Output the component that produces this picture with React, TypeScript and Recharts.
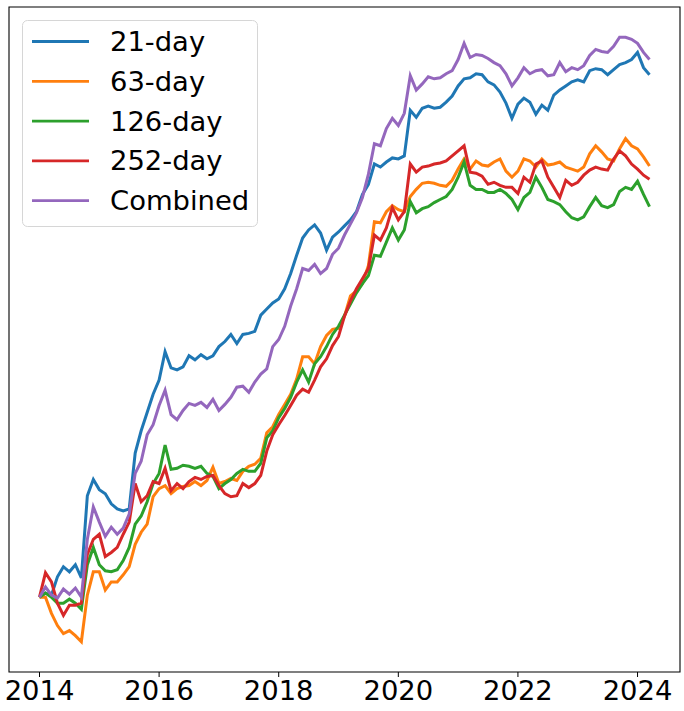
import React from 'react';
import { LineChart, Line, XAxis, YAxis, Legend, ReferenceArea } from 'recharts';

// Sampled every 0.1 year starting at 2014.0
const START_YEAR = 2014;
const STEP = 0.1;

const day21 = [
  0.50, 0.54, 0.52, 0.70, 0.80, 0.75, 0.82, 0.69, 1.50, 1.66,
  1.56, 1.52, 1.42, 1.37, 1.35, 1.37, 1.92, 2.14, 2.32, 2.50,
  2.64, 2.92, 2.76, 2.74, 2.77, 2.88, 2.84, 2.89, 2.85, 2.88,
  2.97, 3.02, 3.09, 3.00, 3.09, 3.10, 3.12, 3.28, 3.34, 3.40,
  3.44, 3.54, 3.69, 3.87, 4.04, 4.12, 4.17, 4.09, 3.92, 4.05,
  4.10, 4.16, 4.22, 4.30, 4.47, 4.57, 4.77, 4.74, 4.79, 4.83,
  4.82, 4.85, 5.30, 5.23, 5.32, 5.34, 5.32, 5.33, 5.38, 5.44,
  5.54, 5.61, 5.62, 5.66, 5.65, 5.58, 5.55, 5.48, 5.37, 5.22,
  5.36, 5.42, 5.38, 5.26, 5.35, 5.30, 5.45, 5.50, 5.54, 5.58,
  5.60, 5.58, 5.69, 5.71, 5.70, 5.65, 5.70, 5.75, 5.77, 5.80,
  5.87, 5.72, 5.65,
];

const day63 = [
  0.50, 0.50, 0.34, 0.22, 0.14, 0.17, 0.12, 0.06, 0.52, 0.75,
  0.75, 0.57, 0.65, 0.65, 0.72, 0.80, 1.02, 1.14, 1.22, 1.49,
  1.57, 1.60, 1.52, 1.57, 1.59, 1.60, 1.64, 1.60, 1.65, 1.78,
  1.62, 1.64, 1.67, 1.65, 1.74, 1.79, 1.81, 1.87, 2.12, 2.18,
  2.30, 2.40, 2.50, 2.65, 2.87, 2.87, 2.80, 2.97, 3.08, 3.14,
  3.15, 3.27, 3.47, 3.52, 3.59, 3.77, 4.20, 4.19, 4.30, 4.36,
  4.32, 4.30, 4.45, 4.52, 4.58, 4.59, 4.58, 4.56, 4.55, 4.61,
  4.72, 4.82, 4.72, 4.80, 4.76, 4.75, 4.79, 4.82, 4.70, 4.64,
  4.70, 4.82, 4.80, 4.74, 4.82, 4.76, 4.77, 4.79, 4.74, 4.72,
  4.70, 4.74, 4.87, 4.95, 4.89, 4.82, 4.80, 4.92, 5.02, 4.95,
  4.92, 4.84, 4.75,
];

const day126 = [
  0.50, 0.54, 0.50, 0.44, 0.44, 0.48, 0.44, 0.38, 0.82, 0.99,
  0.82, 0.76, 0.75, 0.77, 0.86, 0.99, 1.22, 1.30, 1.44, 1.62,
  1.72, 2.00, 1.76, 1.77, 1.80, 1.79, 1.77, 1.79, 1.72, 1.69,
  1.57, 1.62, 1.66, 1.72, 1.76, 1.74, 1.74, 1.82, 2.07, 2.14,
  2.27, 2.36, 2.47, 2.62, 2.74, 2.62, 2.80, 2.87, 2.97, 3.09,
  3.17, 3.28, 3.39, 3.50, 3.59, 3.67, 3.87, 3.86, 4.00, 4.14,
  4.02, 4.12, 4.40, 4.29, 4.33, 4.35, 4.39, 4.42, 4.45, 4.52,
  4.64, 4.79, 4.56, 4.52, 4.52, 4.49, 4.49, 4.52, 4.48, 4.42,
  4.32, 4.44, 4.49, 4.64, 4.54, 4.42, 4.40, 4.37, 4.30, 4.24,
  4.22, 4.25, 4.35, 4.44, 4.36, 4.34, 4.37, 4.50, 4.54, 4.52,
  4.60, 4.47, 4.35,
];

const day252 = [
  0.50, 0.74, 0.65, 0.44, 0.32, 0.42, 0.42, 0.44, 0.92, 1.07,
  1.12, 0.90, 0.94, 0.99, 1.12, 1.24, 1.62, 1.44, 1.50, 1.64,
  1.62, 1.77, 1.55, 1.62, 1.57, 1.64, 1.68, 1.66, 1.69, 1.70,
  1.60, 1.52, 1.49, 1.50, 1.62, 1.58, 1.62, 1.70, 1.94, 2.10,
  2.20, 2.29, 2.39, 2.49, 2.55, 2.52, 2.64, 2.77, 2.85, 2.98,
  3.07, 3.27, 3.42, 3.54, 3.64, 3.74, 4.07, 4.02, 4.14, 4.34,
  4.22, 4.30, 4.77, 4.69, 4.74, 4.75, 4.77, 4.78, 4.80, 4.85,
  4.90, 4.95, 4.69, 4.68, 4.65, 4.57, 4.59, 4.56, 4.54, 4.54,
  4.48, 4.64, 4.59, 4.77, 4.80, 4.64, 4.54, 4.44, 4.61, 4.56,
  4.59, 4.66, 4.71, 4.74, 4.72, 4.71, 4.82, 4.90, 4.85, 4.77,
  4.72, 4.66, 4.62,
];

const combined = [
  0.50, 0.60, 0.52, 0.49, 0.58, 0.53, 0.59, 0.50, 1.07, 1.39,
  1.24, 1.10, 1.19, 1.12, 1.18, 1.32, 1.72, 1.84, 2.10, 2.20,
  2.39, 2.54, 2.30, 2.25, 2.34, 2.41, 2.39, 2.42, 2.37, 2.45,
  2.34, 2.40, 2.47, 2.57, 2.58, 2.52, 2.62, 2.70, 2.75, 2.97,
  3.04, 3.17, 3.37, 3.54, 3.74, 3.72, 3.78, 3.69, 3.74, 3.88,
  3.94, 4.07, 4.18, 4.29, 4.44, 4.67, 4.97, 4.95, 5.12, 5.22,
  5.15, 5.27, 5.64, 5.50, 5.56, 5.63, 5.61, 5.62, 5.66, 5.69,
  5.80, 5.96, 5.82, 5.85, 5.84, 5.81, 5.77, 5.74, 5.66, 5.54,
  5.62, 5.72, 5.66, 5.69, 5.70, 5.64, 5.65, 5.77, 5.68, 5.72,
  5.70, 5.74, 5.84, 5.90, 5.88, 5.87, 5.93, 6.02, 6.02, 6.00,
  5.96, 5.87, 5.80,
];

const seriesNames = ['21-day', '63-day', '126-day', '252-day', 'Combined'];
const seriesKeys = ['d21', 'd63', 'd126', 'd252', 'comb'];
const seriesColors = ['#1f77b4', '#ff7f0e', '#2ca02c', '#d62728', '#9467bd'];
const xTicks = [2014, 2016, 2018, 2020, 2022, 2024];

const years = day21.map((_, i) => +(START_YEAR + i * STEP).toFixed(2));
const rows = years.map((year, i) => ({
  year,
  d21: day21[i],
  d63: day63[i],
  d126: day126[i],
  d252: day252[i],
  comb: combined[i],
}));

const allVals = [...day21, ...day63, ...day126, ...day252, ...combined];
const yMin = Math.min(...allVals);
const yMax = Math.max(...allVals);
const yPad = (yMax - yMin) * 0.05;
const yDomain: [number, number] = [yMin - yPad, yMax + yPad];
const xFirst = years[0];
const xLast = years[years.length - 1];
const xPad = (xLast - xFirst) * 0.05;
const xDomain: [number, number] = [xFirst - xPad, xLast + xPad];

const FONT = 'DejaVu Sans, sans-serif';
const FS = 27.4;

function LegendBox() {
  return (
    <svg width={237} height={209} style={{ display: 'block' }}>
      <rect x={0.5} y={0.5} width={235} height={206} rx={5} ry={5}
        fill="#ffffff" fillOpacity={0.8} stroke="#d6d6d6" strokeWidth={1} />
      {seriesNames.map((name, i) => {
        const cy = 21.5 + i * 39.8;
        return (
          <g key={name}>
            <line x1={10} x2={67} y1={cy} y2={cy} stroke={seriesColors[i]} strokeWidth={2.8} />
            <text x={88} y={cy} dominantBaseline="central" fontFamily={FONT} fontSize={FS} fill="#000">
              {name}
            </text>
          </g>
        );
      })}
    </svg>
  );
}

export default function App() {
  return (
    <div style={{ position: 'absolute', left: 0, top: 0, width: 684, height: 711, background: '#fff' }}>
      <LineChart width={684} height={711} data={rows}
        margin={{ top: 7, right: 4, left: 9, bottom: 0 }}>
        <XAxis dataKey="year" type="number" domain={xDomain} ticks={xTicks}
          allowDataOverflow height={39} tickSize={5} tickMargin={4}
          axisLine={false} tickLine={{ stroke: '#000', strokeWidth: 1 }}
          tick={{ fill: '#000', fontSize: FS, fontFamily: FONT }} interval={0} />
        <YAxis type="number" domain={yDomain} hide allowDataOverflow />
        <ReferenceArea x1={xDomain[0]} x2={xDomain[1]} y1={yDomain[0]} y2={yDomain[1]}
          fill="none" stroke="#000" strokeWidth={1.1} />
        {seriesKeys.map((k, i) => (
          <Line key={k} type="linear" dataKey={k} name={seriesNames[i]} stroke={seriesColors[i]}
            strokeWidth={3} dot={false} activeDot={false} isAnimationActive={false} />
        ))}
        <Legend layout="vertical" align="center" verticalAlign="middle"
          wrapperStyle={{ left: 22, top: 20, width: 237, height: 209 }}
          content={() => <LegendBox />} />
      </LineChart>
    </div>
  );
}
